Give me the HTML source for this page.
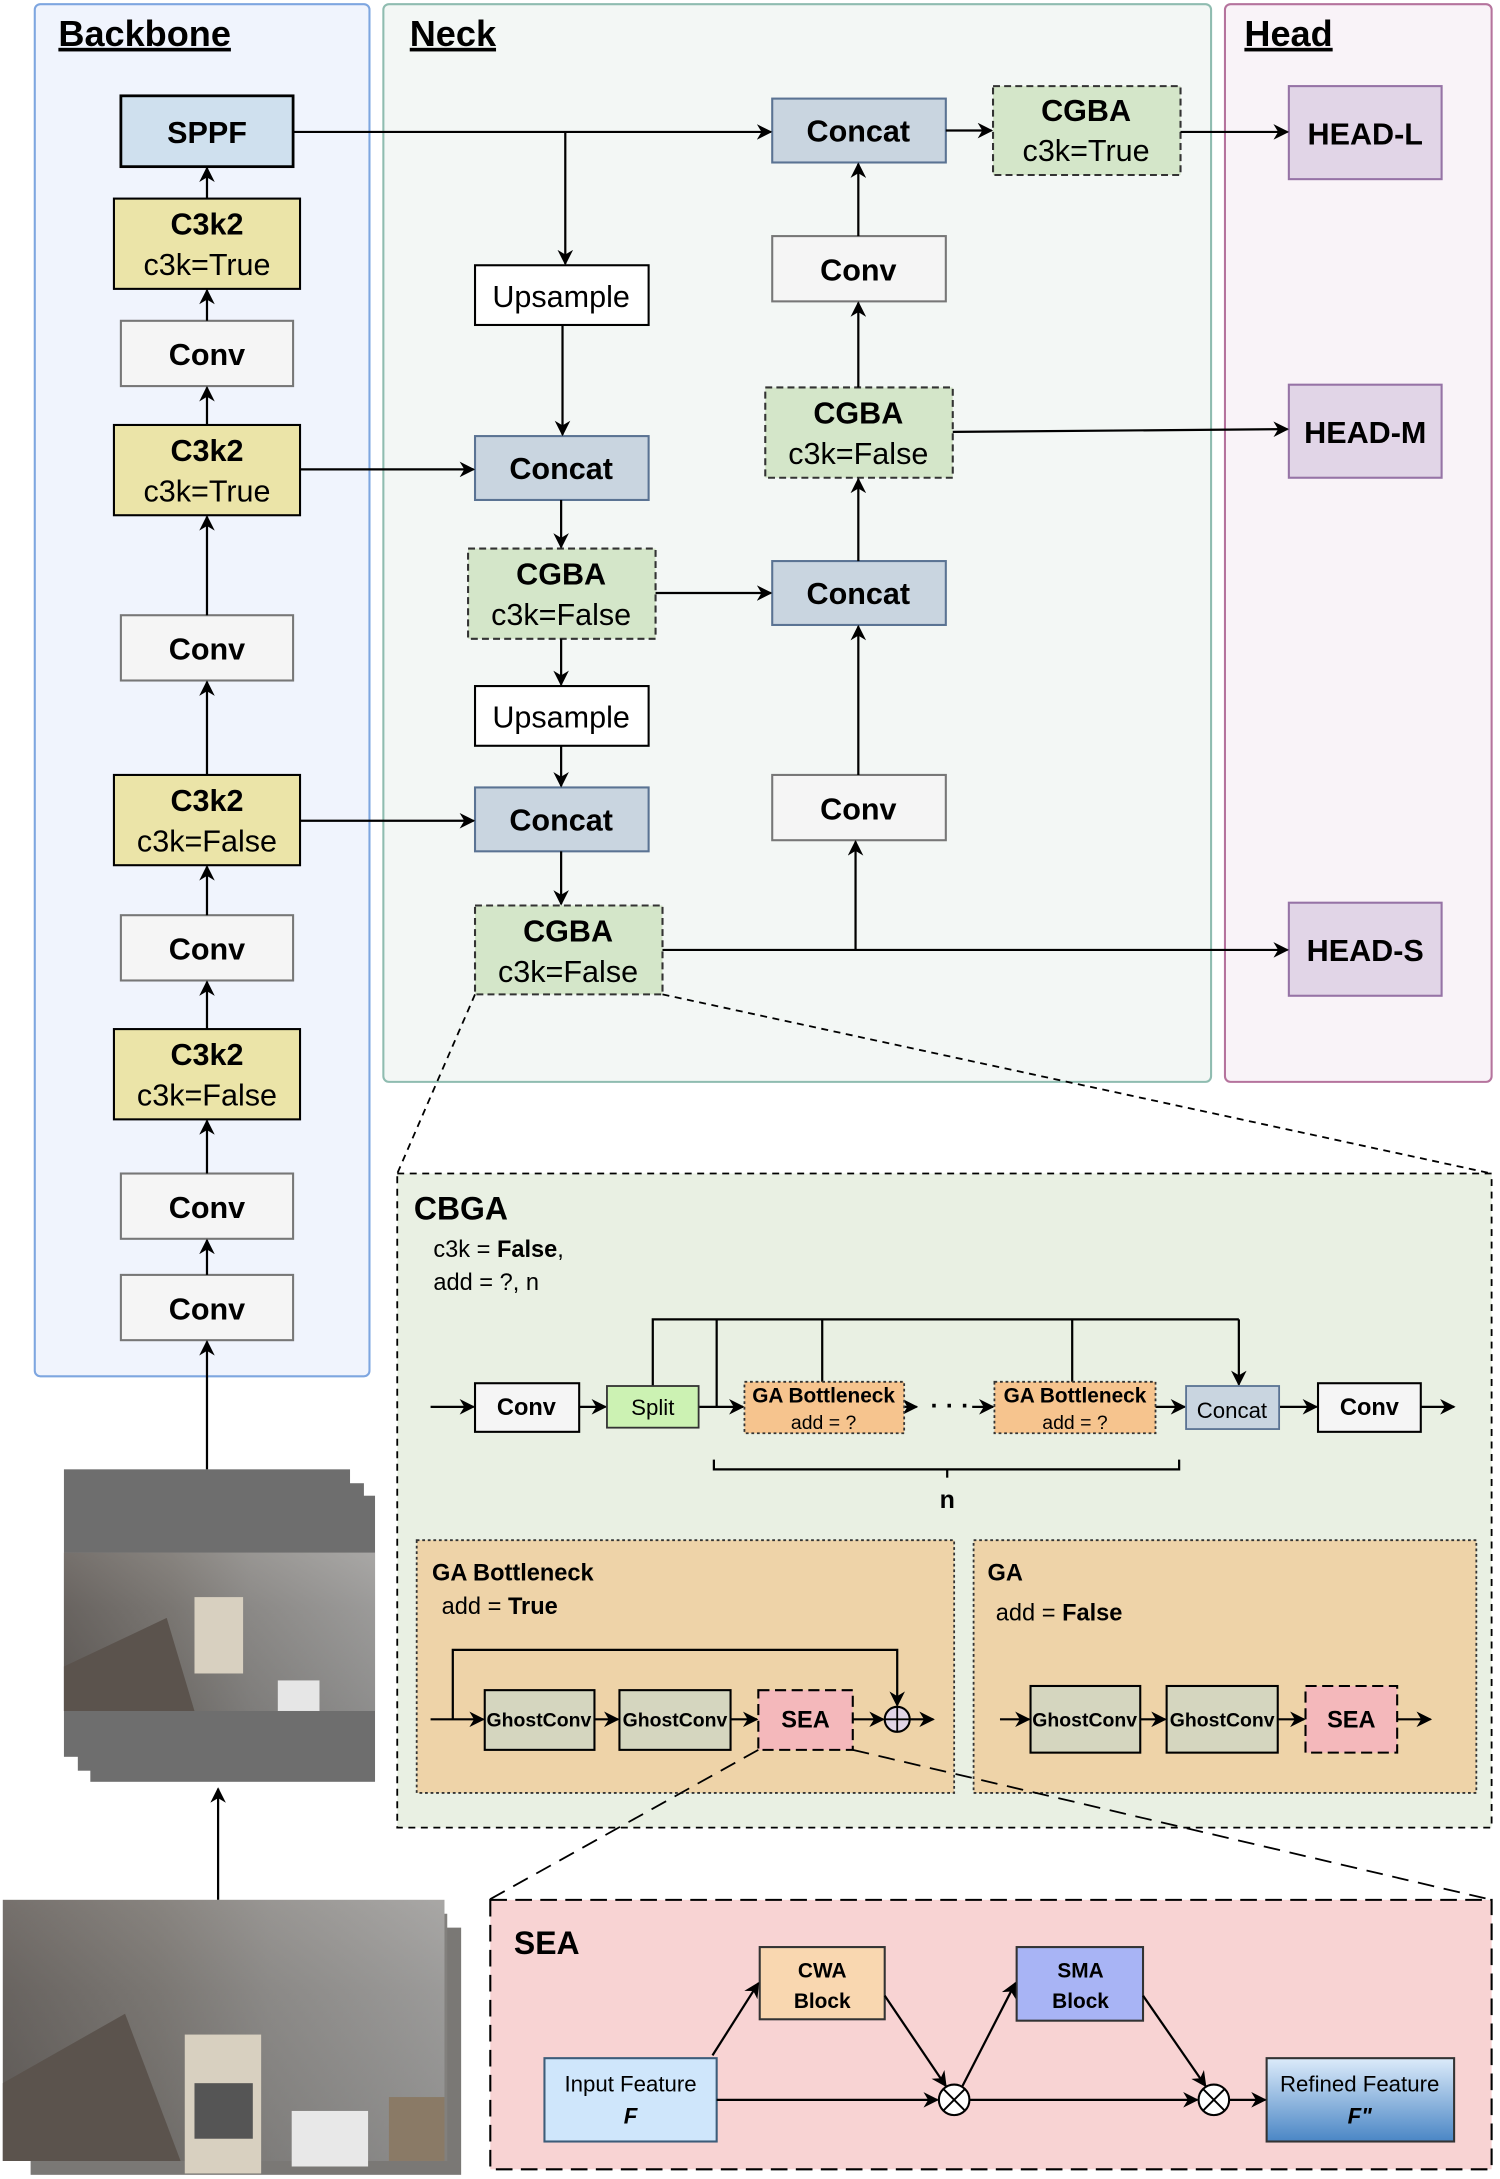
<!DOCTYPE html>
<html><head><meta charset="utf-8"><style>
html,body{margin:0;padding:0;background:#fff}
svg{display:block}
text{font-family:"Liberation Sans",Arial,sans-serif}
</style></head><body>
<svg xmlns="http://www.w3.org/2000/svg" width="1500" height="2179" viewBox="0 0 1080 1569">
<defs>
<marker id="a" viewBox="0 0 10 10" refX="9" refY="5" markerWidth="7" markerHeight="7" orient="auto-start-reverse"><path d="M0,0 L10,5 L0,10 L3,5 z" fill="#000"/></marker>
<linearGradient id="rf" x1="0" y1="0" x2="0" y2="1"><stop offset="0" stop-color="#dcebfa"/><stop offset="1" stop-color="#4a86c5"/></linearGradient>
<linearGradient id="ph" x1="0" y1="0" x2="0" y2="1"><stop offset="0" stop-color="#a9a6a2"/><stop offset="0.35" stop-color="#8c8a87"/><stop offset="1" stop-color="#6f6e6c"/></linearGradient>
<linearGradient id="ph2" x1="0" y1="0" x2="1" y2="0"><stop offset="0" stop-color="#4b4440"/><stop offset="0.35" stop-color="#6c6762"/><stop offset="0.6" stop-color="#8a8886"/><stop offset="1" stop-color="#a8a8a8"/></linearGradient>
</defs>

<!-- panels -->
<rect x="25" y="3" width="241" height="988" rx="4" fill="#f0f4fd" stroke="#7ea6e0" stroke-width="1.5"/>
<rect x="276" y="3" width="596" height="776" rx="4" fill="#f3f7f5" stroke="#8fbcb0" stroke-width="1.5"/>
<rect x="882" y="3" width="192" height="776" rx="4" fill="#f9f3f8" stroke="#b5739d" stroke-width="1.5"/>
<text x="42" y="33" font-size="26" font-weight="bold" text-decoration="underline">Backbone</text>
<text x="295" y="33" font-size="26" font-weight="bold" text-decoration="underline">Neck</text>
<text x="896" y="33" font-size="26" font-weight="bold" text-decoration="underline">Head</text>

<g font-size="22" text-anchor="middle">
<!-- backbone -->
<rect x="87" y="69" width="124" height="51" fill="#cfe0ee" stroke="#000" stroke-width="2"/><text x="149" y="103" font-weight="bold">SPPF</text>
<rect x="82" y="143" width="134" height="65" fill="#ebe4a8" stroke="#000" stroke-width="1.5"/><text x="149" y="169" font-weight="bold">C3k2</text><text x="149" y="198">c3k=True</text>
<rect x="87" y="231" width="124" height="47" fill="#f5f5f5" stroke="#777" stroke-width="1.5"/><text x="149" y="263" font-weight="bold">Conv</text>
<rect x="82" y="306" width="134" height="65" fill="#ebe4a8" stroke="#000" stroke-width="1.5"/><text x="149" y="332" font-weight="bold">C3k2</text><text x="149" y="361">c3k=True</text>
<rect x="87" y="443" width="124" height="47" fill="#f5f5f5" stroke="#777" stroke-width="1.5"/><text x="149" y="475" font-weight="bold">Conv</text>
<rect x="82" y="558" width="134" height="65" fill="#ebe4a8" stroke="#000" stroke-width="1.5"/><text x="149" y="584" font-weight="bold">C3k2</text><text x="149" y="613">c3k=False</text>
<rect x="87" y="659" width="124" height="47" fill="#f5f5f5" stroke="#777" stroke-width="1.5"/><text x="149" y="691" font-weight="bold">Conv</text>
<rect x="82" y="741" width="134" height="65" fill="#ebe4a8" stroke="#000" stroke-width="1.5"/><text x="149" y="767" font-weight="bold">C3k2</text><text x="149" y="796">c3k=False</text>
<rect x="87" y="845" width="124" height="47" fill="#f5f5f5" stroke="#777" stroke-width="1.5"/><text x="149" y="877" font-weight="bold">Conv</text>
<rect x="87" y="918" width="124" height="47" fill="#f5f5f5" stroke="#777" stroke-width="1.5"/><text x="149" y="950" font-weight="bold">Conv</text>

<!-- neck -->
<rect x="342" y="191" width="125" height="43" fill="#fff" stroke="#000" stroke-width="1.5"/><text x="404" y="221">Upsample</text>
<rect x="342" y="314" width="125" height="46" fill="#c9d5e0" stroke="#5a7393" stroke-width="1.5"/><text x="404" y="345" font-weight="bold">Concat</text>
<rect x="337" y="395" width="135" height="65" fill="#d4e6c9" stroke="#333" stroke-width="1.5" stroke-dasharray="5,3"/><text x="404" y="421" font-weight="bold">CGBA</text><text x="404" y="450">c3k=False</text>
<rect x="342" y="494" width="125" height="43" fill="#fff" stroke="#000" stroke-width="1.5"/><text x="404" y="524">Upsample</text>
<rect x="342" y="567" width="125" height="46" fill="#c9d5e0" stroke="#5a7393" stroke-width="1.5"/><text x="404" y="598" font-weight="bold">Concat</text>
<rect x="342" y="652" width="135" height="64" fill="#d4e6c9" stroke="#333" stroke-width="1.5" stroke-dasharray="5,3"/><text x="409" y="678" font-weight="bold">CGBA</text><text x="409" y="707">c3k=False</text>

<rect x="556" y="71" width="125" height="46" fill="#c9d5e0" stroke="#5a7393" stroke-width="1.5"/><text x="618" y="102" font-weight="bold">Concat</text>
<rect x="715" y="62" width="135" height="64" fill="#d4e6c9" stroke="#333" stroke-width="1.5" stroke-dasharray="5,3"/><text x="782" y="87" font-weight="bold">CGBA</text><text x="782" y="116">c3k=True</text>
<rect x="556" y="170" width="125" height="47" fill="#f5f5f5" stroke="#777" stroke-width="1.5"/><text x="618" y="202" font-weight="bold">Conv</text>
<rect x="551" y="279" width="135" height="65" fill="#d4e6c9" stroke="#333" stroke-width="1.5" stroke-dasharray="5,3"/><text x="618" y="305" font-weight="bold">CGBA</text><text x="618" y="334">c3k=False</text>
<rect x="556" y="404" width="125" height="46" fill="#c9d5e0" stroke="#5a7393" stroke-width="1.5"/><text x="618" y="435" font-weight="bold">Concat</text>
<rect x="556" y="558" width="125" height="47" fill="#f5f5f5" stroke="#777" stroke-width="1.5"/><text x="618" y="590" font-weight="bold">Conv</text>

<!-- heads -->
<rect x="928" y="62" width="110" height="67" fill="#e1d5e7" stroke="#9673a6" stroke-width="1.5"/><text x="983" y="104" font-weight="bold">HEAD-L</text>
<rect x="928" y="277" width="110" height="67" fill="#e1d5e7" stroke="#9673a6" stroke-width="1.5"/><text x="983" y="319" font-weight="bold">HEAD-M</text>
<rect x="928" y="650" width="110" height="67" fill="#e1d5e7" stroke="#9673a6" stroke-width="1.5"/><text x="983" y="692" font-weight="bold">HEAD-S</text>
</g>

<!-- connectors top -->
<g stroke="#000" stroke-width="1.6" fill="none" marker-end="url(#a)">
<path d="M149 143 V121"/><path d="M149 231 V209"/><path d="M149 306 V279"/><path d="M149 443 V372"/>
<path d="M149 558 V491"/><path d="M149 659 V624"/><path d="M149 741 V707"/><path d="M149 845 V807"/>
<path d="M149 918 V893"/><path d="M149 1058 V966"/>
<path d="M211 95 H555"/><path d="M407 95 V190"/>
<path d="M405 234 V313"/><path d="M216 338 H341"/><path d="M404 360 V394"/>
<path d="M472 427 H555"/><path d="M404 460 V493"/><path d="M404 537 V566"/>
<path d="M216 591 H341"/><path d="M404 613 V651"/>
<path d="M477 684 H927"/><path d="M616 684 V606"/>
<path d="M618 558 V451"/><path d="M618 404 V345"/><path d="M618 279 V218"/><path d="M618 170 V118"/>
<path d="M681 94 H714"/><path d="M850 95 H927"/><path d="M686 311 L927 309"/>
</g>
<g stroke="#000" stroke-width="1.3" stroke-dasharray="5,4" fill="none">
<path d="M342 716 L286 845"/><path d="M477 716 L1074 845"/>
</g>

<!-- CBGA panel -->
<rect x="286" y="845" width="788" height="471" fill="#e9f0e3" stroke="#000" stroke-width="1.3" stroke-dasharray="5,4"/>
<text x="298" y="878" font-size="23" font-weight="bold">CBGA</text>
<text x="312" y="905" font-size="17">c3k = <tspan font-weight="bold">False</tspan>,</text>
<text x="312" y="929" font-size="17">add = ?, n</text>

<g stroke="#000" stroke-width="1.6" fill="none">
<path d="M470 998 V950 H892"/><path d="M516 1013 V950"/><path d="M592 995 V950"/><path d="M772 995 V950"/>
<path d="M892 950 V997" marker-end="url(#a)"/>
<path d="M310 1013 H341" marker-end="url(#a)"/><path d="M417 1013 H436" marker-end="url(#a)"/>
<path d="M503 1013 H535" marker-end="url(#a)"/>
<path d="M651 1013 H660" marker-end="url(#a)"/><path d="M700 1013 H715" marker-end="url(#a)"/>
<path d="M832 1013 H853" marker-end="url(#a)"/><path d="M921 1013 H948" marker-end="url(#a)"/>
<path d="M1023 1013 H1047" marker-end="url(#a)"/>
<path d="M514 1051 V1058 H849 V1051"/><path d="M682 1058 V1064"/>
</g>
<text x="670" y="1018" font-size="18" font-weight="bold">· · ·</text>
<rect x="342" y="996" width="75" height="35" fill="#f5f5f5" stroke="#000" stroke-width="1.5"/><text x="379" y="1019" font-size="17" font-weight="bold" text-anchor="middle">Conv</text>
<rect x="437" y="998" width="66" height="30" fill="#ccf2b3" stroke="#333" stroke-width="1.3"/><text x="470" y="1019" font-size="16" text-anchor="middle">Split</text>
<rect x="536" y="995" width="115" height="37" fill="#f6c48e" stroke="#333" stroke-width="1.3" stroke-dasharray="2,2"/><text x="593" y="1010" font-size="15" font-weight="bold" text-anchor="middle">GA Bottleneck</text><text x="593" y="1029" font-size="14" text-anchor="middle">add = ?</text>
<rect x="716" y="995" width="116" height="37" fill="#f6c48e" stroke="#333" stroke-width="1.3" stroke-dasharray="2,2"/><text x="774" y="1010" font-size="15" font-weight="bold" text-anchor="middle">GA Bottleneck</text><text x="774" y="1029" font-size="14" text-anchor="middle">add = ?</text>
<rect x="854" y="998" width="67" height="31" fill="#c9d5e0" stroke="#5a7393" stroke-width="1.3"/><text x="887" y="1021" font-size="16" text-anchor="middle">Concat</text>
<rect x="949" y="996" width="74" height="35" fill="#f5f5f5" stroke="#000" stroke-width="1.5"/><text x="986" y="1019" font-size="17" font-weight="bold" text-anchor="middle">Conv</text>
<text x="682" y="1086" font-size="18" font-weight="bold" text-anchor="middle">n</text>

<!-- GA bottleneck -->
<rect x="300" y="1109" width="387" height="182" fill="#eed3a8" stroke="#333" stroke-width="1.3" stroke-dasharray="2,2"/>
<text x="311" y="1138" font-size="17" font-weight="bold">GA Bottleneck</text>
<text x="318" y="1162" font-size="17">add = <tspan font-weight="bold">True</tspan></text>
<rect x="701" y="1109" width="362" height="182" fill="#eed3a8" stroke="#333" stroke-width="1.3" stroke-dasharray="2,2"/>
<text x="711" y="1138" font-size="17" font-weight="bold">GA</text>
<text x="717" y="1167" font-size="17">add = <tspan font-weight="bold">False</tspan></text>
<g stroke="#000" stroke-width="1.6" fill="none">
<path d="M310 1238 H348" marker-end="url(#a)"/><path d="M326 1238 V1188 H646 V1228" marker-end="url(#a)"/>
<path d="M428 1238 H445" marker-end="url(#a)"/><path d="M526 1238 H545" marker-end="url(#a)"/>
<path d="M614 1238 H636" marker-end="url(#a)"/><path d="M655 1238 H672" marker-end="url(#a)"/>
<path d="M720 1238 H741" marker-end="url(#a)"/><path d="M821 1238 H839" marker-end="url(#a)"/>
<path d="M920 1238 H939" marker-end="url(#a)"/><path d="M1006 1238 H1030" marker-end="url(#a)"/>
</g>
<circle cx="646" cy="1238" r="9" fill="#e1d5e7" stroke="#000" stroke-width="1.5"/><path d="M637 1238 H655 M646 1229 V1247" stroke="#000" stroke-width="1.3"/>
<g font-size="14" font-weight="bold" text-anchor="middle">
<rect x="349" y="1217" width="79" height="43" fill="#d5d6bf" stroke="#000" stroke-width="1.5"/><text x="388" y="1243">GhostConv</text>
<rect x="446" y="1217" width="80" height="43" fill="#d5d6bf" stroke="#000" stroke-width="1.5"/><text x="486" y="1243">GhostConv</text>
<rect x="742" y="1214" width="79" height="48" fill="#d5d6bf" stroke="#000" stroke-width="1.5"/><text x="781" y="1243">GhostConv</text>
<rect x="840" y="1214" width="80" height="48" fill="#d5d6bf" stroke="#000" stroke-width="1.5"/><text x="880" y="1243">GhostConv</text>
</g>
<rect x="546" y="1217" width="68" height="43" fill="#f4b8bb" stroke="#000" stroke-width="1.5" stroke-dasharray="8,4"/><text x="580" y="1244" font-size="17" font-weight="bold" text-anchor="middle">SEA</text>
<rect x="940" y="1214" width="66" height="48" fill="#f4b8bb" stroke="#000" stroke-width="1.5" stroke-dasharray="8,4"/><text x="973" y="1244" font-size="17" font-weight="bold" text-anchor="middle">SEA</text>

<g stroke="#000" stroke-width="1.3" stroke-dasharray="12,7" fill="none">
<path d="M546 1260 L352 1368"/><path d="M614 1260 L1074 1368"/>
</g>

<!-- SEA panel -->
<rect x="353" y="1368" width="721" height="194" fill="#f8d3d3" stroke="#000" stroke-width="1.5" stroke-dasharray="12,6"/>
<text x="370" y="1407" font-size="23" font-weight="bold">SEA</text>
<rect x="392" y="1482" width="124" height="60" fill="#cfe6fb" stroke="#3d5d7a" stroke-width="1.5"/>
<text x="454" y="1506" font-size="16" text-anchor="middle">Input Feature</text><text x="454" y="1529" font-size="16" font-weight="bold" font-style="italic" text-anchor="middle">F</text>
<rect x="547" y="1402" width="90" height="52" fill="#f9d7b0" stroke="#333" stroke-width="1.5"/>
<text x="592" y="1424" font-size="15" font-weight="bold" text-anchor="middle">CWA</text><text x="592" y="1446" font-size="15" font-weight="bold" text-anchor="middle">Block</text>
<rect x="732" y="1402" width="91" height="53" fill="#a8b4f5" stroke="#333" stroke-width="1.5"/>
<text x="778" y="1424" font-size="15" font-weight="bold" text-anchor="middle">SMA</text><text x="778" y="1446" font-size="15" font-weight="bold" text-anchor="middle">Block</text>
<rect x="912" y="1482" width="135" height="60" fill="url(#rf)" stroke="#333" stroke-width="1.5"/>
<text x="979" y="1506" font-size="16" text-anchor="middle">Refined Feature</text><text x="979" y="1529" font-size="16" font-weight="bold" font-style="italic" text-anchor="middle">F"</text>
<g stroke="#000" stroke-width="1.6" fill="none">
<path d="M516 1512 H675" marker-end="url(#a)"/><path d="M698 1512 H862" marker-end="url(#a)"/><path d="M885 1512 H911" marker-end="url(#a)"/>
<path d="M513 1480 L546 1428" marker-end="url(#a)"/><path d="M637 1437 L681 1502" marker-end="url(#a)"/>
<path d="M693 1502 L731 1428" marker-end="url(#a)"/><path d="M823 1437 L868 1502" marker-end="url(#a)"/>
</g>
<g fill="#fff" stroke="#000" stroke-width="1.5">
<circle cx="687" cy="1512" r="11"/><circle cx="874" cy="1512" r="11"/>
</g>
<path d="M679 1504 L695 1520 M695 1504 L679 1520 M866 1504 L882 1520 M882 1504 L866 1520" stroke="#000" stroke-width="1.4"/>

<!-- images -->
<rect x="46" y="1058" width="206" height="207" fill="#6e6e6e"/>
<rect x="56" y="1068" width="206" height="207" fill="#6e6e6e"/>
<rect x="65" y="1077" width="205" height="206" fill="#6e6e6e"/>
<rect x="46" y="1118" width="224" height="114" fill="url(#ph)"/>
<rect x="46" y="1118" width="224" height="114" fill="url(#ph2)" opacity="0.55"/>
<path d="M46 1200 L120 1165 L140 1232 L46 1232 Z" fill="#5b534d"/>
<rect x="140" y="1150" width="35" height="55" fill="#d8d0c0"/>
<rect x="200" y="1210" width="30" height="22" fill="#e6e6e6"/>

<path d="M157 1368 V1288" stroke="#000" stroke-width="1.6" marker-end="url(#a)"/>
<rect x="22" y="1388" width="310" height="178" fill="#7a7875"/>
<rect x="12" y="1378" width="310" height="178" fill="#82807d"/>
<rect x="2" y="1368" width="318" height="188" fill="url(#ph)"/>
<rect x="2" y="1368" width="318" height="188" fill="url(#ph2)" opacity="0.55"/>
<path d="M2 1500 L90 1450 L130 1556 L2 1556 Z" fill="#5b534d"/>
<rect x="133" y="1465" width="55" height="100" fill="#d8d0c0"/>
<rect x="140" y="1500" width="42" height="40" fill="#555"/>
<rect x="210" y="1520" width="55" height="40" fill="#e8e8e8"/>
<rect x="280" y="1510" width="40" height="46" fill="#8a7a66"/>
</svg>
</body></html>
